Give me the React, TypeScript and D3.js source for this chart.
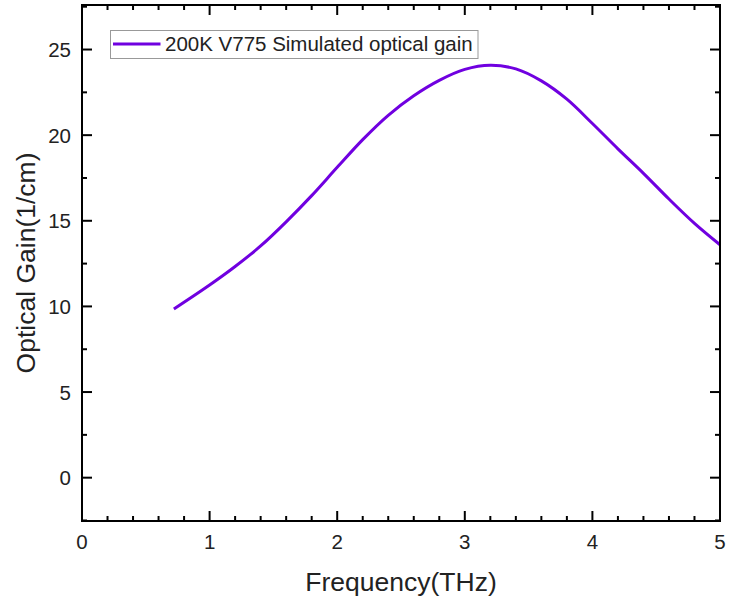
import React from "react";
import * as d3 from "d3";

const freq = [0.72, 1.0, 1.2, 1.4, 1.6, 1.8, 2.0, 2.2, 2.4, 2.6, 2.8, 3.0, 3.2, 3.4, 3.6, 3.8, 4.0, 4.2, 4.4, 4.6, 4.8, 5.0];
const gain = [9.85, 11.25, 12.33, 13.53, 14.94, 16.47, 18.12, 19.74, 21.16, 22.3, 23.2, 23.84, 24.08, 23.87, 23.17, 22.1, 20.68, 19.2, 17.77, 16.27, 14.85, 13.6];
const xTicks = [0, 1, 2, 3, 4, 5];
const yTicks = [0, 5, 10, 15, 20, 25];
const seriesName = "200K V775 Simulated optical gain";
const xTitle = "Frequency(THz)";
const yTitle = "Optical Gain(1/cm)";

export default function App() {
  const W = 729, H = 605;
  const L = 82, R = 720, T = 5, B = 521;
  const x = d3.scaleLinear().domain([0, 5]).range([L, R]);
  const y = d3.scaleLinear().domain([-2.53, 27.6]).range([B, T]);
  const pts = freq.map((f, i) => [f, gain[i]] as [number, number]);
  const line = d3.line<[number, number]>().x(d => x(d[0])).y(d => y(d[1])).curve(d3.curveCatmullRom.alpha(0.5));
  const xMinor = d3.range(0, 5.001, 0.2).filter(v => Math.abs(v - Math.round(v)) > 1e-6);
  const yMinor = d3.range(-2.5, 27.6, 5);
  const font = "Arial, 'Liberation Sans', sans-serif";
  const color = "#7000e0";
  return (
    <svg width={W} height={H} style={{ position: "absolute", left: 0, top: 0 }} fontFamily={font}>
      <rect x={0} y={0} width={W} height={H} fill="white" />
      <path d={line(pts) || ""} fill="none" stroke={color} strokeWidth={3} />
      {xTicks.map(v => (
        <g key={"xt" + v}>
          <line x1={x(v)} x2={x(v)} y1={B} y2={B - 10} stroke="black" strokeWidth={2} />
          <line x1={x(v)} x2={x(v)} y1={T} y2={T + 10} stroke="black" strokeWidth={2} />
          <text x={x(v)} y={549} textAnchor="middle" fontSize={20.5} fill="#222">{v}</text>
        </g>
      ))}
      {xMinor.map(v => (
        <g key={"xm" + v}>
          <line x1={x(v)} x2={x(v)} y1={B} y2={B - 5} stroke="black" strokeWidth={2} />
          <line x1={x(v)} x2={x(v)} y1={T} y2={T + 5} stroke="black" strokeWidth={2} />
        </g>
      ))}
      {yTicks.map(v => (
        <g key={"yt" + v}>
          <line x1={L} x2={L + 10} y1={y(v)} y2={y(v)} stroke="black" strokeWidth={2} />
          <line x1={R} x2={R - 10} y1={y(v)} y2={y(v)} stroke="black" strokeWidth={2} />
          <text x={71} y={y(v) + 7.5} textAnchor="end" fontSize={20.5} fill="#222">{v}</text>
        </g>
      ))}
      {yMinor.map(v => (
        <g key={"ym" + v}>
          <line x1={L} x2={L + 5} y1={y(v)} y2={y(v)} stroke="black" strokeWidth={2} />
          <line x1={R} x2={R - 5} y1={y(v)} y2={y(v)} stroke="black" strokeWidth={2} />
        </g>
      ))}
      <rect x={L} y={T} width={R - L} height={B - T} fill="none" stroke="black" strokeWidth={2} />
      <text x={(L + R) / 2} y={591} textAnchor="middle" fontSize={26.5} fill="#222">{xTitle}</text>
      <text transform={`translate(35, ${(T + B) / 2}) rotate(-90)`} textAnchor="middle" fontSize={26.5} fill="#222">{yTitle}</text>
      <rect x={110.5} y={30.5} width={367.5} height={28} fill="white" stroke="#999" strokeWidth={1} />
      <line x1={113} x2={160.5} y1={44} y2={44} stroke={color} strokeWidth={3} />
      <text x={165} y={51} fontSize={20.5} fill="#222">{seriesName}</text>
    </svg>
  );
}
